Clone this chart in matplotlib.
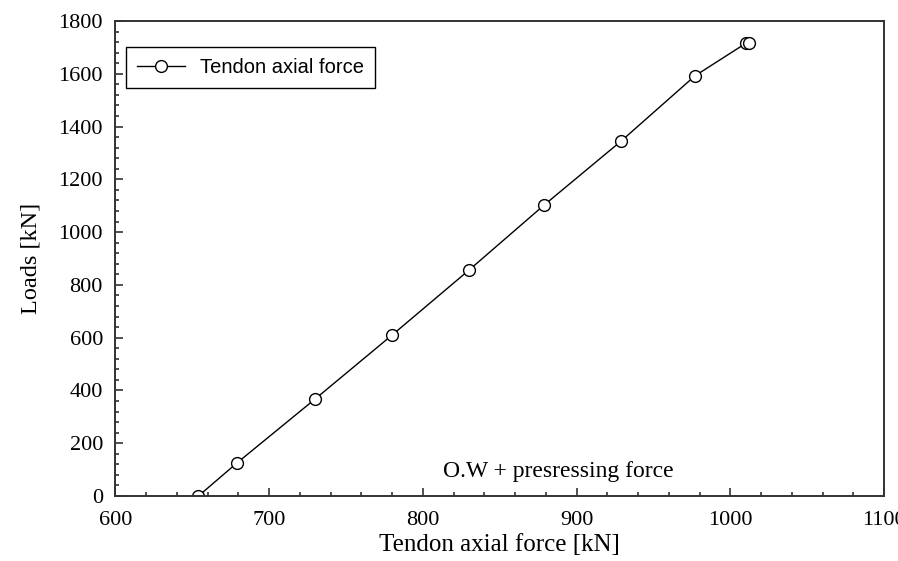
import numpy as np
import matplotlib
matplotlib.use("Agg")
import matplotlib.pyplot as plt
from matplotlib.ticker import MultipleLocator

# Data
tendon_force = [654, 679, 730, 780, 830, 879, 929, 977, 1010, 1012]
loads = [0, 125, 368, 610, 856, 1103, 1345, 1592, 1715, 1717]

x_ticks = [600, 700, 800, 900, 1000, 1100]
y_ticks = [0, 200, 400, 600, 800, 1000, 1200, 1400, 1600, 1800]

serif = ["Liberation Serif", "DejaVu Serif"]
sans = ["Liberation Sans", "DejaVu Sans"]

fig = plt.figure(figsize=(8.98, 5.61), dpi=100)
ax = fig.add_axes([0.1286, 0.1159, 0.8558, 0.8467])

ax.plot(tendon_force, loads, color="black", lw=1.0, marker="o",
        markersize=8.5, markerfacecolor="white", markeredgecolor="black",
        markeredgewidth=1.0, label="Tendon axial force")

ax.set_xlim(600, 1100)
ax.set_ylim(0, 1800)
ax.set_xticks(x_ticks)
ax.set_yticks(y_ticks)
ax.xaxis.set_minor_locator(MultipleLocator(20))
ax.yaxis.set_minor_locator(MultipleLocator(40))
ax.tick_params(which="both", direction="in", top=False, right=False,
               color="#333333", width=1.2)
ax.tick_params(which="major", length=6, labelsize=16)
ax.tick_params(axis="x", which="major", pad=11)
ax.tick_params(axis="y", which="major", pad=9)
ax.tick_params(which="minor", length=3)
for lab in ax.get_xticklabels() + ax.get_yticklabels():
    lab.set_family(serif)
for sp in ax.spines.values():
    sp.set_color("#333333")
    sp.set_linewidth(1.4)

ax.set_xlabel("Tendon axial force [kN]", family=serif, fontsize=18, labelpad=3)
ax.set_ylabel("Loads [kN]", family=serif, fontsize=17.5, labelpad=12)

ax.text(888, 91, "O.W + presressing force", family=serif, fontsize=17,
        ha="center", va="center")

leg = ax.legend(loc="upper left", bbox_to_anchor=(0.0137, 0.945),
                prop={"family": sans, "size": 14.5}, fancybox=False,
                edgecolor="black", framealpha=1, borderpad=0.55,
                handlelength=2.4, handletextpad=0.7, borderaxespad=0)
leg.get_frame().set_linewidth(1.0)

fig.savefig("out.png", dpi=100)
